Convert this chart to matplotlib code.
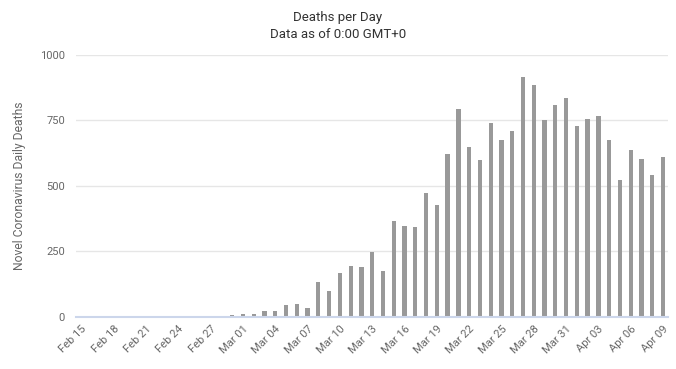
import datetime as dt
import matplotlib
matplotlib.use("Agg")
import matplotlib.pyplot as plt

plt.rcParams["font.family"] = ["Roboto", "DejaVu Sans"]

# days from Feb 15 to Apr 09 (2020)
start = dt.date(2020, 2, 15)
dates = [start + dt.timedelta(days=i) for i in range(55)]
date_labels = [d.strftime("%b %d") for d in dates]

# daily deaths (Feb 15 .. Apr 09)
deaths = [0, 0, 0, 0, 0, 0, 0, 0, 0, 0, 0, 0, 0, 0,
          6, 11, 11, 23, 23, 43, 47, 33,
          131, 97, 166, 192, 189, 249, 175, 365, 347, 344, 472, 426,
          623, 792, 649, 598, 739, 677, 710, 917, 886, 752, 809, 834,
          728, 757, 766, 677, 524, 637, 603, 541, 609]

yticks = [0, 250, 500, 750, 1000]

fig = plt.figure(figsize=(6.76, 3.69), dpi=100)
ax = fig.add_axes([76 / 676, 1 - 316.7 / 369, 592.4 / 676, 261.7 / 369])

x = list(range(len(deaths)))
ax.bar(x, deaths, width=0.4, color="#999999", zorder=3)

ax.set_xlim(-0.5, len(deaths) - 0.5)
ax.set_ylim(0, 1000)
ax.set_yticks(yticks)
ax.set_yticklabels([str(v) for v in yticks], color="#666666", fontsize=8)
ax.grid(axis="y", color="#e6e6e6", linewidth=1, zorder=0)

ax.set_xticks(x[::3])
ax.set_xticklabels(date_labels[::3], rotation=45, ha="right",
                   rotation_mode="anchor", color="#666666", fontsize=8)
ax.tick_params(axis="y", length=0, pad=8)
ax.tick_params(axis="x", length=0, pad=5)

for s in ["top", "right", "left"]:
    ax.spines[s].set_visible(False)
ax.spines["bottom"].set_color("#ccd6eb")
ax.spines["bottom"].set_linewidth(1.5)
ax.spines["bottom"].set_zorder(4)

ax.set_ylabel("Novel Coronavirus Daily Deaths", color="#666666", fontsize=8.7, labelpad=10)

fig.text(0.5, 1 - 17 / 369, "Deaths per Day", ha="center", va="center",
         color="#333333", fontsize=9.5)
fig.text(0.5, 1 - 35 / 369, "Data as of 0:00 GMT+0", ha="center", va="center",
         color="#333333", fontsize=9.5)

fig.savefig("out.png", dpi=100)
